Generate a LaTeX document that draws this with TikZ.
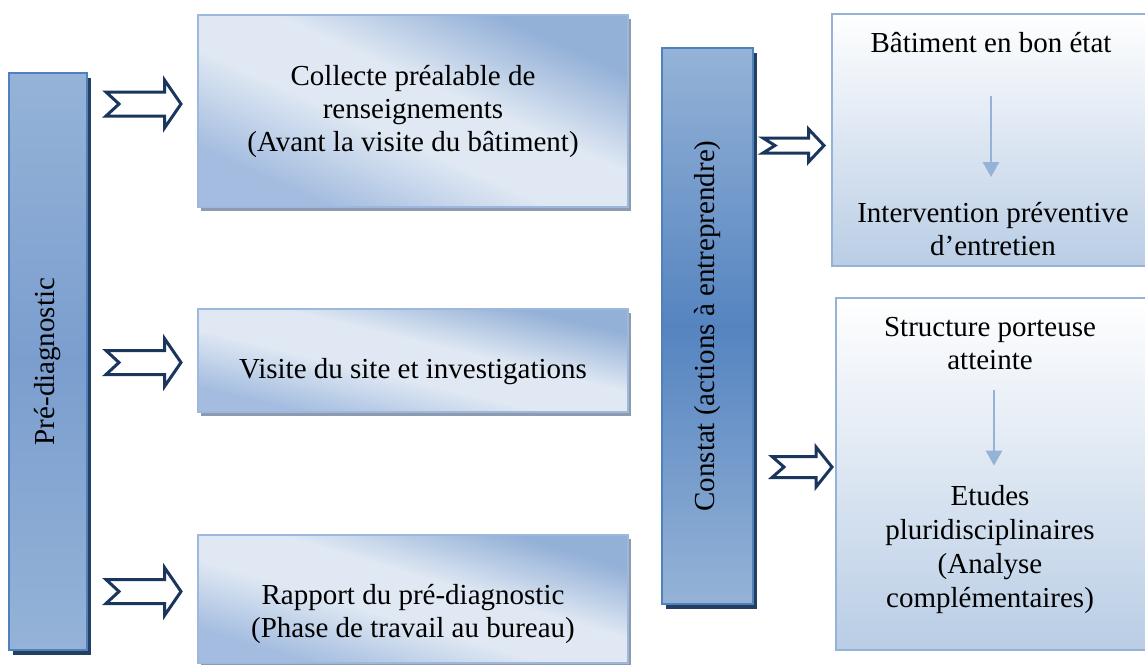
\documentclass[tikz,border=0pt]{standalone}
\usepackage{fontspec}
\setmainfont{Liberation Serif}
\usetikzlibrary{arrows.meta,shadows}
\definecolor{navy}{HTML}{1B365D}
\definecolor{shadnavy}{HTML}{243F60}
\definecolor{barlt}{HTML}{95B3D7}
\definecolor{bardkA}{HTML}{7B9ECF}
\definecolor{bardkB}{HTML}{5584C0}
\definecolor{barrim}{HTML}{4F81BD}
\definecolor{boxlt}{HTML}{DFE8F3}
\definecolor{boxdk}{HTML}{93B0D7}
\definecolor{boxdkb}{HTML}{A3BCDF}
\definecolor{boxrim}{HTML}{9DB8DC}
\definecolor{boxshadow}{HTML}{8E9BAE}
\definecolor{rbottom}{HTML}{B9CDE5}
\definecolor{rrim}{HTML}{95B3D7}
\definecolor{smallarr}{HTML}{95B3D7}
\pgfdeclareverticalshading{barshadeA}{100bp}{color(0bp)=(barlt); color(25bp)=(barlt); color(50bp)=(bardkA); color(75bp)=(barlt); color(100bp)=(barlt)}
\pgfdeclareverticalshading{barshadeB}{100bp}{color(0bp)=(barlt); color(25bp)=(barlt); color(50bp)=(bardkB); color(75bp)=(barlt); color(100bp)=(barlt)}
\pgfdeclareverticalshading{diagband}{100bp}{color(0bp)=(boxdkb); color(27bp)=(boxdkb); color(44bp)=(boxlt); color(56bp)=(boxlt); color(73bp)=(boxdk); color(100bp)=(boxdk)}
\tikzset{
  txt/.style={font=\fontsize{29}{33}\selectfont, align=center, inner sep=0pt},
  barbox/.style={draw=barrim, line width=2pt, inner sep=0pt,
    drop shadow={shadow xshift=4pt, shadow yshift=-5pt, fill=shadnavy, opacity=1}},
  stagebox/.style={draw=boxrim, line width=1.5pt, inner sep=0pt,
    minimum width=430pt, shade, shading=diagband, shading angle=#1,
    drop shadow={shadow xshift=3pt, shadow yshift=-4pt, fill=boxshadow, opacity=1}},
  resultbox/.style={draw=rrim, line width=2.5pt, inner sep=0pt, top color=white, bottom color=rbottom},
  arrowline/.style={draw=navy, fill=white, line width=3pt, line join=miter},
  smallarrow/.style={draw=smallarr, line width=2.5pt, -{Triangle[width=16pt,length=15pt]}},
  pics/notcharrow/.style n args={5}{code={
    \path[arrowline] (0,{-#4}) -- ({#1-#3},{-#4}) -- ({#1-#3},{-#5}) -- (#1,0)
      -- ({#1-#3},#5) -- ({#1-#3},#4) -- (0,#4) -- (#2,0) -- cycle;
  }}
}
\begin{document}
\begin{tikzpicture}[x=1pt,y=-1pt]
\useasboundingbox (0,0) rectangle (1145,664);
\clip (0,0) rectangle (1145,664);
\fill[white] (0,0) rectangle (1145,664);

% left bar
\node[barbox, shade, shading=barshadeA, minimum width=78pt, minimum height=577pt] (pre) at (48,361.5) {};
\node[txt, rotate=90] (pretxt) at (pre.center) {Pré-diagnostic};

% stage boxes
\node[stagebox=-24.06, minimum height=192pt] (collecte) at (413,111) {};
\node[txt] (collectetxt) at (413,112) {Collecte préalable de\\renseignements\\(Avant la visite du bâtiment)};
\node[stagebox=-13.47, minimum height=103pt] (visite) at (413,360.5) {};
\node[txt] (visitetxt) at (413,372) {Visite du site et investigations};
\node[stagebox=-16.58, minimum height=128pt] (rapport) at (413,599) {};
\node[txt] (rapporttxt) at (413,614) {Rapport du pré-diagnostic\\(Phase de travail au bureau)};

% constat bar
\node[barbox, shade, shading=barshadeB, minimum width=91pt, minimum height=556pt] (constat) at (707.5,326) {};
\node[txt, rotate=90] (constattxt) at (constat.center) {Constat (actions à entreprendre)};

% result boxes
\node[resultbox, minimum width=318pt, minimum height=252pt] (bon) at (991,140) {};
\node[txt] (bontxt) at (991,43) {Bâtiment en bon état};
\node[txt] (intertxt) at (993,229) {Intervention préventive\\d’entretien};
\draw[smallarrow, shorten <=43pt, shorten >=25pt] (bontxt) -- (bontxt |- intertxt.north) ;

\node[resultbox, minimum width=314pt, minimum height=352pt] (atteinte) at (993,474) {};
\node[txt] (structtxt) at (990,344) {Structure porteuse\\atteinte};
\node[txt] (etudestxt) at (990,550) {Etudes\\[1pt]pluridisciplinaires\\[1pt](Analyse\\[1pt]complémentaires)};
\draw[smallarrow, shorten <=20pt, shorten >=20pt] ([xshift=4pt]structtxt.south) -- ([xshift=4pt]etudestxt.north);

% block arrows
\pic at (106,104) {notcharrow={75}{13}{16.5}{12}{24}};
\pic at (106,362.5) {notcharrow={75}{13}{16.5}{12}{24}};
\pic at (106,591.5) {notcharrow={75}{13}{16.5}{12}{24}};
\pic at (763,145.5) {notcharrow={61}{12}{15.5}{7.5}{16.5}};
\pic at (772,467) {notcharrow={60}{12}{16}{10.5}{20}};
\end{tikzpicture}
\end{document}
